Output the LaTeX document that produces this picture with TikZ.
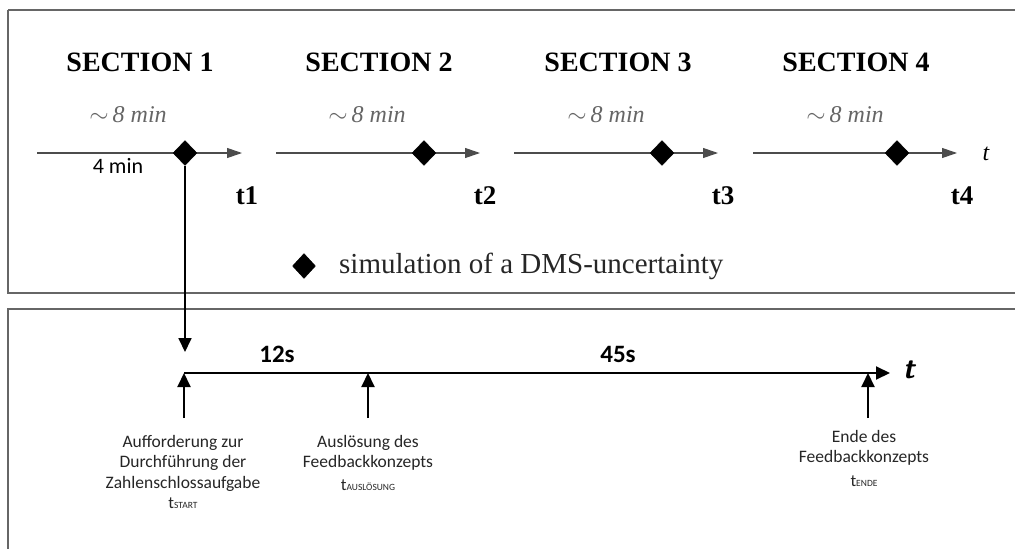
\documentclass[tikz,border=0pt]{standalone}
\usepackage{fontspec}
\setmainfont{Liberation Serif}
\newfontfamily\calibri{Carlito}
\usetikzlibrary{arrows.meta,shapes.geometric}

\tikzset{
  frame/.style={draw=black!60, line width=1.4pt},
  sectitle/.style={font=\fontsize{28}{30}\selectfont\bfseries, inner sep=0pt},
  durlabel/.style={font=\fontsize{24}{26}\selectfont\itshape, text=black!60, inner sep=0pt},
  tlabel/.style={font=\fontsize{27}{29}\selectfont\bfseries, inner sep=0pt},
  seg/.style={draw=black!70, line width=1.1pt, -{Triangle[length=15pt,width=10pt]}},
  dms/.style={diamond, fill=black, draw=black, inner sep=0pt, minimum width=24pt, minimum height=25pt},
  axis/.style={draw=black, line width=2pt, -{Triangle[length=14pt,width=13pt]}},
  upmark/.style={draw=black, line width=2pt, -{Triangle[length=14pt,width=13pt]}},
  evlabel/.style={font=\calibri\fontsize{17.5}{20.5}\selectfont, align=center, inner sep=0pt, text=black!85},
  sublabel/.style={font=\calibri\fontsize{17}{19}\selectfont, inner sep=0pt, text=black!85},
  span/.style={font=\calibri\bfseries\fontsize{25}{27}\selectfont, inner sep=0pt}
}
\newcommand{\tsub}[1]{t{\fontsize{9.5}{11}\selectfont #1}}

\begin{document}
\begin{tikzpicture}[x=1pt, y=-1pt]
\useasboundingbox (0,0) rectangle (1015,549);
\fill[white] (0,0) rectangle (1015,549);

% upper panel and lower panel
\draw[frame] (8,10) -- (1020,10) (8,10) -- (8,293) -- (1020,293);
\draw[frame] (1020,309) -- (8,309) -- (8,560);

% section headings
\node[sectitle] (h1) at (140,62) {SECTION 1};
\node[sectitle] (h2) at (379,62) {SECTION 2};
\node[sectitle] (h3) at (618,62) {SECTION 3};
\node[sectitle] (h4) at (856,62) {SECTION 4};

% approximate durations
\foreach \x/\n in {128/1,367/2,606/3,845/4}
  \node[durlabel] (dur\n) at (\x,115) {$\sim$\,8 min};

% section time lines
\coordinate (a1) at (37,153);  \coordinate (e1) at (242,153);
\coordinate (a2) at (276,153); \coordinate (e2) at (480,153);
\coordinate (a3) at (514,153); \coordinate (e3) at (718,153);
\coordinate (a4) at (753,153); \coordinate (e4) at (957,153);
\foreach \n in {1,...,4} \draw[seg] (a\n) -- (e\n);

% simulated uncertainties
\node[dms] (d1) at (185,153) {};
\node[dms] (d2) at (424,153) {};
\node[dms] (d3) at (662,153) {};
\node[dms] (d4) at (897,153) {};

\node[font=\calibri\fontsize{22}{24}\selectfont, inner sep=0pt] (four) at (118,166) {4 min};
\node[font=\fontsize{24}{26}\selectfont\itshape, inner sep=0pt] (tt) at (986,154) {t};

% section end points
\node[tlabel] (t1) at (247,196) {t1};
\node[tlabel] (t2) at (485,196) {t2};
\node[tlabel] (t3) at (723,196) {t3};
\node[tlabel] (t4) at (962,196) {t4};

% legend
\node[dms, minimum width=23pt, minimum height=25pt] (leg) at (304,266) {};
\node[anchor=west, font=\fontsize{29}{31}\selectfont, text=black!85, inner sep=0pt] (legtxt) at (339,266) {simulation of a DMS-uncertainty};

% link to the detailed time line
\coordinate (drop) at (185,352);
\draw[upmark, line width=1.8pt] (d1.south) -- (drop);

% detailed time line
\coordinate (b0) at (184,373);
\coordinate (b1) at (890,373);
\draw[axis] (b0) -- (b1);
\node[font=\sffamily\bfseries\itshape\fontsize{30}{32}\selectfont, inner sep=0pt] (tb) at (909,370) {t};
\node[span] (s12) at (277,354) {12s};
\node[span] (s45) at (618,354) {45s};

% events on the detailed time line
\coordinate (u1) at (184,418); \coordinate (m1) at (184,373);
\coordinate (u2) at (368,418); \coordinate (m2) at (368,373);
\coordinate (u3) at (868,418); \coordinate (m3) at (868,373);
\draw[upmark] (u1) -- (m1);
\draw[upmark] (u2) -- (m2);
\draw[upmark] (u3) -- (m3);

\node[evlabel, anchor=north] (ev1) at (183,435) {Aufforderung zur\\Durchführung der\\Zahlenschlossaufgabe};
\node[sublabel, anchor=base] (ts1) at (183,508) {\tsub{START}};
\node[evlabel, anchor=north] (ev2) at (368,435) {Auslösung des\\Feedbackkonzepts};
\node[sublabel, anchor=base] (ts2) at (368,490) {\tsub{AUSLÖSUNG}};
\node[evlabel, anchor=north] (ev3) at (864,430) {Ende des\\Feedbackkonzepts};
\node[sublabel, anchor=base] (ts3) at (864,486) {\tsub{ENDE}};
\end{tikzpicture}
\end{document}
